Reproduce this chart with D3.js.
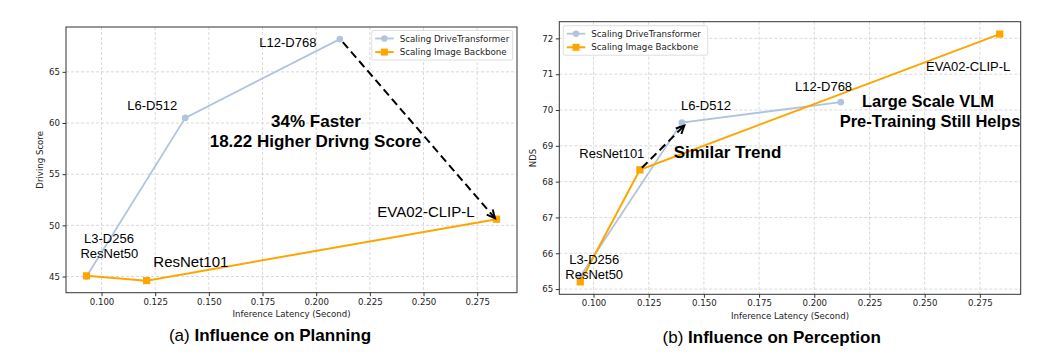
<!DOCTYPE html>
<html><head><meta charset="utf-8">
<script src="https://cdn.jsdelivr.net/npm/d3@7"></script>
<style>body{margin:0;background:#fff}svg{display:block}</style>
</head><body>
<svg id="c" width="1041" height="358"></svg>
<script>
// ---------- data ----------
const xTicks = [0.100, 0.125, 0.150, 0.175, 0.200, 0.225, 0.250, 0.275];
const planYTicks = [45, 50, 55, 60, 65];
const percYTicks = [65, 66, 67, 68, 69, 70, 71, 72];

const dtNames = ["L3-D256", "L6-D512", "L12-D768"];
const bbNames = ["ResNet50", "ResNet101", "EVA02-CLIP-L"];

const planDtLatency = [0.093, 0.139, 0.211];
const planDtScore   = [45.0, 60.5, 68.2];
const planBbLatency = [0.093, 0.121, 0.284];
const planBbScore   = [45.07, 44.6, 50.6];

const percDtLatency = [0.094, 0.140, 0.212];
const percDtNDS     = [65.35, 69.65, 70.22];
const percBbLatency = [0.094, 0.121, 0.284];
const percBbNDS     = [65.2, 68.33, 72.12];

const legendLabels = ["Scaling DriveTransformer", "Scaling Image Backbone"];
const BLUE = "#b0c4de", ORANGE = "#ffa500";

const svg = d3.select("#c");
const tickFont = "DejaVu Sans, sans-serif";
const txtFont = "Liberation Sans, Arial, sans-serif";

function marginDomain(vals){
  const lo = d3.min(vals), hi = d3.max(vals), m = (hi - lo) * 0.05;
  return [lo - m, hi + m];
}

function panel(cfg){
  const g = svg.append("g");
  const x = d3.scaleLinear().domain(marginDomain(cfg.xs.flat())).range([cfg.l, cfg.r]);
  const y = d3.scaleLinear().domain(marginDomain(cfg.ys.flat())).range([cfg.b, cfg.t]);

  // grid
  g.append("g").selectAll("line").data(cfg.xTicks).join("line")
    .attr("x1", d => x(d)).attr("x2", d => x(d)).attr("y1", cfg.t).attr("y2", cfg.b)
    .attr("stroke", "#cfcfcf").attr("stroke-width", 0.8).attr("stroke-dasharray", "3,2");
  g.append("g").selectAll("line").data(cfg.yTicks).join("line")
    .attr("y1", d => y(d)).attr("y2", d => y(d)).attr("x1", cfg.l).attr("x2", cfg.r)
    .attr("stroke", "#cfcfcf").attr("stroke-width", 0.8).attr("stroke-dasharray", "3,2");

  // axes
  const ax = g.append("g").attr("transform", `translate(0,${cfg.b})`)
    .call(d3.axisBottom(x).tickValues(cfg.xTicks).tickFormat(d3.format(".3f")).tickSize(3.5).tickPadding(2.5));
  const ay = g.append("g").attr("transform", `translate(${cfg.l},0)`)
    .call(d3.axisLeft(y).tickValues(cfg.yTicks).tickFormat(d3.format("d")).tickSize(3.5).tickPadding(2.5));
  [ax, ay].forEach(a => {
    a.select(".domain").remove();
    a.selectAll("line").attr("stroke", "#333");
    a.selectAll("text").attr("font-family", tickFont).attr("font-size", 8.6).attr("fill", "#222");
  });
  g.append("rect").attr("x", cfg.l).attr("y", cfg.t).attr("width", cfg.r - cfg.l).attr("height", cfg.b - cfg.t)
    .attr("fill", "none").attr("stroke", "#333").attr("stroke-width", 1);

  // axis labels
  g.append("text").attr("x", (cfg.l + cfg.r) / 2).attr("y", cfg.b + 24.5).attr("text-anchor", "middle")
    .attr("font-family", tickFont).attr("font-size", 8.6).attr("fill", "#222").text("Inference Latency (Second)");
  g.append("text").attr("transform", `translate(${cfg.ylx},${(cfg.t + cfg.b) / 2}) rotate(-90)`)
    .attr("text-anchor", "middle").attr("font-family", tickFont).attr("font-size", 8.6).attr("fill", "#222").text(cfg.yLabel);

  // lines
  const line = d3.line().x(d => x(d[0])).y(d => y(d[1]));
  const dt = d3.zip(cfg.xs[0], cfg.ys[0]);
  const bb = d3.zip(cfg.xs[1], cfg.ys[1]);
  g.append("path").datum(dt).attr("d", line).attr("fill", "none").attr("stroke", BLUE).attr("stroke-width", 1.8);
  g.append("g").selectAll("circle").data(dt).join("circle")
    .attr("cx", d => x(d[0])).attr("cy", d => y(d[1])).attr("r", 3.3).attr("fill", BLUE);
  g.append("path").datum(bb).attr("d", line).attr("fill", "none").attr("stroke", ORANGE).attr("stroke-width", 2);
  g.append("g").selectAll("rect").data(bb).join("rect")
    .attr("x", d => x(d[0]) - 3.6).attr("y", d => y(d[1]) - 3.6).attr("width", 7.2).attr("height", 7.2).attr("fill", ORANGE);

  // legend
  const lg = g.append("g").attr("transform", `translate(${cfg.lgx},${cfg.lgy})`);
  lg.append("rect").attr("width", cfg.lgw).attr("height", 29.5).attr("rx", 2)
    .attr("fill", "#fff").attr("fill-opacity", 0.85).attr("stroke", "#d6d6d6").attr("stroke-width", 0.8);
  legendLabels.forEach((lab, i) => {
    const yy = 8 + i * 13.6;
    lg.append("line").attr("x1", 3.5).attr("x2", 22).attr("y1", yy).attr("y2", yy)
      .attr("stroke", i ? ORANGE : BLUE).attr("stroke-width", i ? 2 : 1.8);
    if (i) lg.append("rect").attr("x", 9.2).attr("y", yy - 3.5).attr("width", 7).attr("height", 7).attr("fill", ORANGE);
    else lg.append("circle").attr("cx", 12.7).attr("cy", yy).attr("r", 3.2).attr("fill", BLUE);
    lg.append("text").attr("x", 28).attr("y", yy + 3.1).attr("font-family", tickFont).attr("font-size", 8.7)
      .attr("fill", "#222").text(lab);
  });

  // point labels
  cfg.labels.forEach(L => {
    g.append("text").attr("x", L.x).attr("y", L.y).attr("text-anchor", L.a || "start")
      .attr("font-family", txtFont).attr("font-size", L.s || 13).attr("font-weight", L.w || "normal")
      .attr("fill", "#000").text(L.t);
  });

  // arrow
  const A = cfg.arrow;
  const p0 = [x(A.from[0]) + A.o0[0], y(A.from[1]) + A.o0[1]];
  const p1 = [x(A.to[0]) + A.o1[0], y(A.to[1]) + A.o1[1]];
  g.append("line").attr("x1", p0[0]).attr("y1", p0[1]).attr("x2", p1[0]).attr("y2", p1[1])
    .attr("stroke", "#000").attr("stroke-width", 2).attr("stroke-dasharray", "8,4.5");
  const ang = Math.atan2(p1[1] - p0[1], p1[0] - p0[0]);
  const hl = 9, hw = 0.45;
  const hd = [[p1[0] - hl * Math.cos(ang - hw), p1[1] - hl * Math.sin(ang - hw)], p1,
              [p1[0] - hl * Math.cos(ang + hw), p1[1] - hl * Math.sin(ang + hw)]];
  g.append("path").attr("d", d3.line()(hd)).attr("fill", "none").attr("stroke", "#000").attr("stroke-width", 2);

  // title
  const tt = g.append("text").attr("x", cfg.titleX).attr("y", cfg.titleY).attr("text-anchor", "middle")
    .attr("font-family", txtFont).attr("font-size", 17).attr("fill", "#000");
  tt.append("tspan").text(cfg.titleA + " ");
  tt.append("tspan").attr("font-weight", "bold").text(cfg.titleB);
}

panel({
  l: 66, r: 517, t: 27, b: 292.7, ylx: 43,
  xs: [planDtLatency, planBbLatency], ys: [planDtScore, planBbScore],
  xTicks, yTicks: planYTicks, yLabel: "Driving Score",
  lgx: 371.7, lgy: 30.5, lgw: 141,
  labels: [
    {t: dtNames[2], x: 259.3, y: 46.7},
    {t: dtNames[1], x: 127.3, y: 110},
    {t: dtNames[0], x: 109, y: 242.7, a: "middle"},
    {t: bbNames[0], x: 109.3, y: 257.7, a: "middle"},
    {t: bbNames[1], x: 153.3, y: 266.7, s: 15},
    {t: bbNames[2], x: 377.3, y: 217.3, s: 15},
    {t: "34% Faster", x: 316, y: 126.7, a: "middle", s: 17, w: "bold"},
    {t: "18.22 Higher Drivng Score", x: 315.5, y: 147.3, a: "middle", s: 17, w: "bold"}
  ],
  arrow: {from: [planDtLatency[2], planDtScore[2]], to: [planBbLatency[2], planBbScore[2]], o0: [3, 3], o1: [-1.5, -1]},
  titleX: 270, titleY: 340.7, titleA: "(a)", titleB: "Influence on Planning"
});

panel({
  l: 559.3, r: 1020.7, t: 21.7, b: 294.3, ylx: 536,
  xs: [percDtLatency, percBbLatency], ys: [percDtNDS, percBbNDS],
  xTicks, yTicks: percYTicks, yLabel: "NDS",
  lgx: 563.3, lgy: 25.7, lgw: 144.4,
  labels: [
    {t: dtNames[1], x: 681, y: 110},
    {t: dtNames[2], x: 795, y: 90.7},
    {t: bbNames[1], x: 579.3, y: 157.7},
    {t: dtNames[0], x: 594.3, y: 264.3, a: "middle"},
    {t: bbNames[0], x: 594.2, y: 279.3, a: "middle"},
    {t: bbNames[2], x: 926, y: 70.7},
    {t: "Similar Trend", x: 727.5, y: 158.3, a: "middle", s: 17, w: "bold"},
    {t: "Large Scale VLM", x: 928, y: 106.5, a: "middle", s: 16.5, w: "bold"},
    {t: "Pre-Training Still Helps", x: 930, y: 127, a: "middle", s: 16.5, w: "bold"}
  ],
  arrow: {from: [percBbLatency[1], percBbNDS[1]], to: [percDtLatency[1], percDtNDS[1]], o0: [2, -2], o1: [2.5, 3]},
  titleX: 771.7, titleY: 343, titleA: "(b)", titleB: "Influence on Perception"
});
</script>
</body></html>
